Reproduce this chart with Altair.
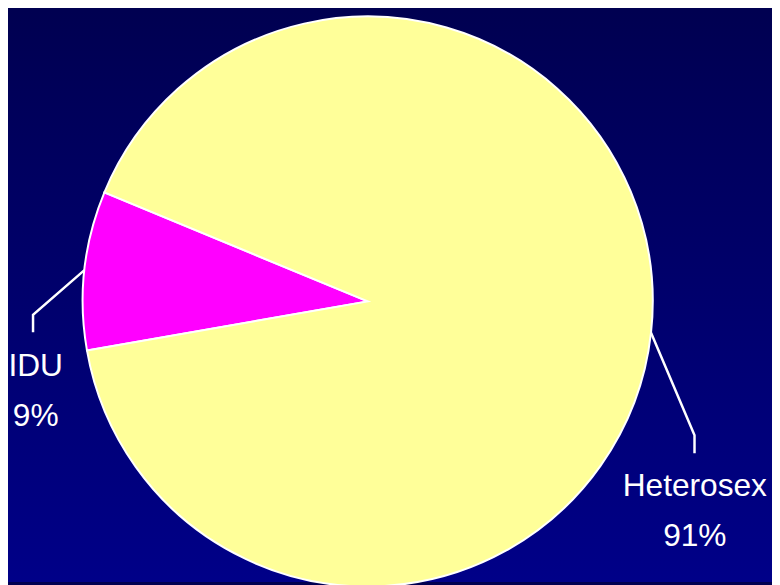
import math
import altair as alt
import pandas as pd

# ---- data ----
categories = ["IDU", "Heterosex"]
values = [9, 91]
colors = ["#ff00ff", "#ffff99"]

# ---- layout ----
W, H = 772, 577
CX, CY, R = 363.5, 293.5, 288
START_DEG = 260.1
START = math.radians(START_DEG)
# leader-line elbows / ends and label anchors (chart pixel coords)
elbows = {"IDU": (25.3, 307.0), "Heterosex": (693.7, 428.7)}
ends = {"IDU": (25.3, 324.7), "Heterosex": (693.7, 447.0)}
label_pos = {"IDU": (28.0, 369.3), "Heterosex": (694.0, 490.3)}
FONT = "Liberation Sans, Arial, Helvetica, sans-serif"
FS = 32

total = sum(values)
pie_df = pd.DataFrame({"category": categories, "value": values, "idx": list(range(len(values)))})

# leader lines from slice mid-angles
rows = []
cum = 0
for c, v in zip(categories, values):
    mid = START + (cum + v / 2) / total * 2 * math.pi
    cum += v
    sx, sy = CX + R * math.sin(mid), CY - R * math.cos(mid)
    pts = [(sx, sy), elbows[c], ends[c]]
    for k, (px, py) in enumerate(pts):
        rows.append({"category": c, "k": k, "px": px, "py": py})
lines_df = pd.DataFrame(rows)

lab_df = pd.DataFrame({
    "category": categories,
    "pct": [f"{v}%" for v in values],
    "px": [label_pos[c][0] for c in categories],
    "py": [label_pos[c][1] for c in categories],
})

xs = alt.Scale(domain=[0, W], range=[0, W])
ys = alt.Scale(domain=[0, H], range=[0, H])

grad = alt.Gradient(
    gradient="linear",
    stops=[alt.GradientStop(color="#000051", offset=0), alt.GradientStop(color="#000088", offset=1)],
    x1=0, x2=0, y1=0, y2=1,
)
bg = alt.Chart(pd.DataFrame({"a": [0]})).mark_rect(fill=grad).encode(
    x=alt.value(0), x2=alt.value(W), y=alt.value(0), y2=alt.value(H)
)

pie = alt.Chart(pie_df).mark_arc(outerRadius=R, stroke="white", strokeWidth=2).encode(
    theta=alt.Theta("value:Q", stack=True, scale=alt.Scale(range=[START, START + 2 * math.pi])),
    color=alt.Color("category:N", scale=alt.Scale(domain=categories, range=colors), legend=None),
    order=alt.Order("idx:Q"),
    x=alt.value(CX),
    y=alt.value(CY),
)

leaders = alt.Chart(lines_df).mark_line(color="white", strokeWidth=2.5).encode(
    x=alt.X("px:Q", scale=xs, axis=None),
    y=alt.Y("py:Q", scale=ys, axis=None),
    detail="category:N",
    order="k:Q",
)

names = alt.Chart(lab_df).mark_text(
    color="white", font=FONT, fontSize=FS, align="center", baseline="alphabetic"
).encode(
    x=alt.X("px:Q", scale=xs, axis=None),
    y=alt.Y("py:Q", scale=ys, axis=None),
    text="category:N",
)
pcts = alt.Chart(lab_df).mark_text(
    color="white", font=FONT, fontSize=FS, align="center", baseline="alphabetic", dy=50
).encode(
    x=alt.X("px:Q", scale=xs, axis=None),
    y=alt.Y("py:Q", scale=ys, axis=None),
    text="pct:N",
)

chart = alt.layer(bg, pie, leaders, names, pcts).properties(
    width=W, height=H, autosize=alt.AutoSizeParams(type="none"), padding=0,
    background="#000051",
).configure_view(stroke=None)

chart.save("out.html", embed_options={"renderer": "svg", "actions": False})
